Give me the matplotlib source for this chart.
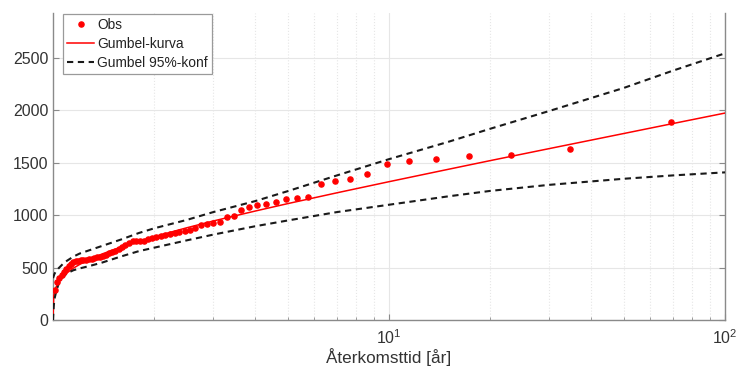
import numpy as np
import matplotlib
matplotlib.use("Agg")
import matplotlib.pyplot as plt
from matplotlib.ticker import FixedLocator, NullFormatter

plt.rcParams['font.family'] = ['Liberation Sans', 'DejaVu Sans']
plt.rcParams['mathtext.fontset'] = 'custom'
plt.rcParams['mathtext.rm'] = 'Liberation Sans'
plt.rcParams['mathtext.it'] = 'Liberation Sans'

# observerade värden, återkomsttid [år] och flöde
obs_T = [1.015, 1.03, 1.045, 1.062, 1.078, 1.095, 1.113, 1.131, 1.15, 1.169,
         1.19, 1.211, 1.232, 1.255, 1.278, 1.302, 1.327, 1.353, 1.38, 1.408,
         1.438, 1.468, 1.5, 1.533, 1.568, 1.605, 1.643, 1.683, 1.725, 1.769,
         1.816, 1.865, 1.917, 1.971, 2.029, 2.091, 2.156, 2.226, 2.3, 2.379,
         2.464, 2.556, 2.654, 2.76, 2.875, 3.0, 3.136, 3.286, 3.45, 3.632,
         3.833, 4.059, 4.313, 4.6, 4.929, 5.308, 5.75, 6.273, 6.9, 7.667,
         8.625, 9.857, 11.5, 13.8, 17.25, 23.0, 34.5, 69.0]
obs_Q = [285, 360, 400, 425, 455, 485, 515, 535, 555, 560,
         565, 568, 572, 576, 580, 585, 591, 597, 603, 612,
         624, 636, 648, 662, 678, 693, 712, 738, 750, 752,
         755, 758, 770, 782, 790, 798, 808, 818, 828, 838,
         848, 858, 875, 905, 915, 923, 935, 986, 992, 1050,
         1081, 1100, 1107, 1126, 1157, 1165, 1175, 1300, 1323, 1342,
         1393, 1488, 1517, 1539, 1562, 1571, 1634, 1889]

# kurvor avlästa vid valda återkomsttider
curve_T = [1.0, 1.005, 1.01, 1.02, 1.04, 1.07, 1.1, 1.15, 1.2, 1.3, 1.4, 1.6,
           1.8, 2, 2.5, 3, 4, 5, 7, 10, 15, 20, 30, 50, 70, 100]
gumbel_Q = [0, 228, 267, 311, 364, 413, 449, 495, 530, 586, 630, 698,
            751, 795, 880, 945, 1040, 1111, 1214, 1320, 1438, 1521, 1636, 1780, 1875, 1975]
upper_Q = [400, 420, 440, 465, 495, 535, 565, 605, 634, 672, 707, 770,
           830, 875, 955, 1030, 1135, 1230, 1380, 1535, 1700, 1825, 1995, 2215, 2380, 2545]
lower_Q = [0, 130, 200, 260, 350, 410, 445, 475, 492, 520, 548, 608,
           657, 690, 760, 815, 895, 950, 1030, 1100, 1180, 1232, 1290, 1348, 1380, 1409]

fig = plt.figure(figsize=(7.37, 3.70), dpi=100)
ax = fig.add_axes([53 / 737, 1 - 320 / 370, (725 - 53) / 737, (320 - 13) / 370])

ax.plot(obs_T, obs_Q, 'o', color='red', ms=3.7, mec='red', label='Obs', zorder=4)
ax.plot(curve_T, gumbel_Q, '-', color='red', lw=1.1, label='Gumbel-kurva', zorder=3)
ax.plot(curve_T, upper_Q, '--', color='#1a1a1a', lw=1.5, dashes=(3, 2.2),
        label='Gumbel 95%-konf', zorder=3)
ax.plot(curve_T, lower_Q, '--', color='#1a1a1a', lw=1.5, dashes=(3, 2.2), zorder=3)

ax.set_xscale('log')
ax.set_xlim(1.0, 100)
ax.set_ylim(0, 2930)

ax.xaxis.set_major_locator(FixedLocator([10, 100]))
ax.set_xticklabels(['$10^{1}$', '$10^{2}$'])
minors = [m * d for d in (1, 10) for m in range(2, 10)]
ax.xaxis.set_minor_locator(FixedLocator(minors))
ax.xaxis.set_minor_formatter(NullFormatter())
ax.set_yticks([0, 500, 1000, 1500, 2000, 2500])

ax.grid(True, which='major', color='#e6e6e6', lw=0.8, ls='-')
ax.grid(True, which='minor', axis='x', color='#e6e6e6', lw=0.8, ls=':')
ax.set_axisbelow(True)

for side in ('left', 'bottom', 'right'):
    ax.spines[side].set_color('#8a8a8a')
    ax.spines[side].set_linewidth(1.0)
ax.spines['top'].set_visible(False)

ax.tick_params(axis='both', which='both', direction='in', colors='#8a8a8a',
               labelcolor='#333333', labelsize=11.5)
ax.tick_params(axis='y', which='major', right=True, length=4)
ax.tick_params(axis='x', which='major', length=4, pad=6)
ax.tick_params(axis='x', which='minor', length=2.5)

ax.set_xlabel('Återkomsttid [år]', fontsize=12.3, color='#333333', labelpad=1)

leg = ax.legend(loc='upper left', bbox_to_anchor=(0.0144, 0.997), borderaxespad=0,
                fancybox=False, edgecolor='#9a9a9a', framealpha=1, fontsize=9.9,
                handlelength=2.0, handletextpad=0.2, labelspacing=0.35,
                borderpad=0.3, numpoints=1)
leg.get_frame().set_linewidth(0.9)
for t in leg.get_texts():
    t.set_color('#222222')

fig.savefig('out.png', dpi=100)
